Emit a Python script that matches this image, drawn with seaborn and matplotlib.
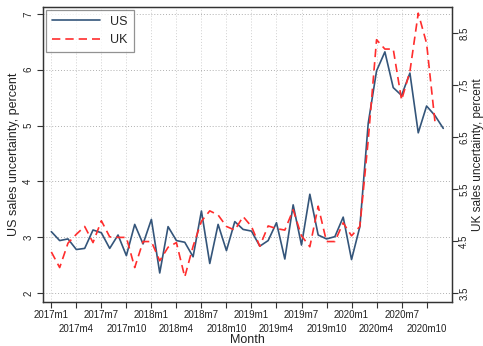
import numpy as np
import pandas as pd
import matplotlib
matplotlib.use("Agg")
import matplotlib.pyplot as plt
import seaborn as sns

# Monthly sales uncertainty, 2017m1 to 2020m12
us_values = [3.10, 2.94, 2.97, 2.78, 2.80, 3.13, 3.08, 2.80, 3.04, 2.67, 3.23, 2.88,
             3.32, 2.36, 3.19, 2.94, 2.91, 2.65, 3.47, 2.53, 3.23, 2.76, 3.28, 3.14,
             3.11, 2.84, 2.94, 3.26, 2.61, 3.58, 2.86, 3.77, 3.04, 2.97, 3.01, 3.36,
             2.60, 3.19, 5.04, 5.98, 6.32, 5.68, 5.54, 5.94, 4.87, 5.35, 5.18, 4.95]
uk_values = [4.29, 3.99, 4.46, 4.63, 4.78, 4.47, 4.89, 4.58, 4.57, 4.57, 3.99, 4.49,
             4.49, 4.12, 4.38, 4.47, 3.81, 4.40, 4.88, 5.08, 5.00, 4.78, 4.71, 4.97,
             4.78, 4.40, 4.79, 4.74, 4.71, 5.10, 4.60, 4.39, 5.17, 4.49, 4.49, 4.85,
             4.60, 4.78, 6.44, 8.37, 8.19, 8.19, 7.21, 7.76, 8.88, 8.30, 6.80, np.nan]
tick_labels = ["2017m1", "2017m4", "2017m7", "2017m10",
               "2018m1", "2018m4", "2018m7", "2018m10",
               "2019m1", "2019m4", "2019m7", "2019m10",
               "2020m1", "2020m4", "2020m7", "2020m10"]
left_ticks = [2, 3, 4, 5, 6, 7]
right_ticks = [3.5, 4.5, 5.5, 6.5, 7.5, 8.5]

month_idx = np.arange(len(us_values))
df = pd.DataFrame({"month": month_idx, "US": us_values, "UK": uk_values})

sns.set_style("white")
plt.rcParams["font.family"] = ["Liberation Sans", "DejaVu Sans"]

fig = plt.figure(figsize=(4.83, 3.46), dpi=100)
ax = fig.add_axes([0.089, 0.127, 0.846, 0.853])
ax2 = ax.twinx()

us_color = "#34557a"
uk_color = "#ff2d2d"

sns.lineplot(data=df, x="month", y="US", ax=ax, color=us_color, linewidth=1.2,
             label="US", legend=False)
sns.lineplot(data=df, x="month", y="UK", ax=ax2, color=uk_color, linewidth=1.2,
             dashes=False, label="UK", legend=False)
ax2.lines[0].set_dashes((5, 3))

ax.set_xlim(-1, 48)
ax.set_ylim(1.839, 7.125)
ax2.set_ylim(3.327, 9.0)

# quarterly x ticks; every second label sits on a lower row
xt = np.arange(0, 48, 3)
ax.set_xticks(xt[::2])
ax.set_xticklabels(tick_labels[::2], fontsize=7)
ax.set_xticks(xt[1::2], minor=True)
ax.set_xticklabels(tick_labels[1::2], minor=True, fontsize=7)
ax.tick_params(axis="x", which="major", pad=2)
ax.tick_params(axis="x", which="minor", pad=11.5)

ax.set_yticks(left_ticks)
ax.set_yticklabels([str(v) for v in left_ticks], rotation=90, va="center", fontsize=7)
ax2.set_yticks(right_ticks)
ax2.set_yticklabels([str(v) for v in right_ticks], rotation=90, va="center", fontsize=7)

for a in (ax, ax2):
    a.tick_params(axis="both", which="both", direction="out", length=4, width=0.8,
                  color="#333333", labelcolor="#222222")
ax.tick_params(axis="y", left=True, right=False, pad=3)
ax.tick_params(axis="x", which="both", bottom=True)
ax2.tick_params(axis="y", right=True, left=False, pad=1.5)

ax.grid(True, axis="y", linestyle=(0, (1, 2)), color="#b0b0b0", linewidth=0.7)
ax.grid(True, axis="x", which="both", linestyle=(0, (1, 2)), color="#d0d0d0", linewidth=0.7)
ax.set_axisbelow(True)

for a in (ax, ax2):
    for s in a.spines.values():
        s.set_color("#333333")
        s.set_linewidth(0.9)

ax.set_xlabel("Month", fontsize=9, labelpad=0, color="#222222")
ax.set_ylabel("US sales uncertainty, percent", fontsize=9, labelpad=2, color="#222222")
ax2.set_ylabel("UK sales uncertainty, percent", fontsize=8.5, color="#222222",
               rotation=90, va="center", ha="center")
ax2.yaxis.set_label_coords(1.064, 0.5)

handles = ax.get_lines()[:1] + ax2.get_lines()[:1]
leg = ax.legend(handles, ["US", "UK"], loc="upper left", fontsize=9,
                handlelength=3.9, frameon=True, fancybox=False,
                borderaxespad=0.25, labelspacing=0.5, borderpad=0.45,
                handletextpad=0.8)
leg.get_frame().set_edgecolor("#777777")
leg.get_frame().set_linewidth(0.9)
leg.set_zorder(10)

fig.savefig("out.png", dpi=100)
